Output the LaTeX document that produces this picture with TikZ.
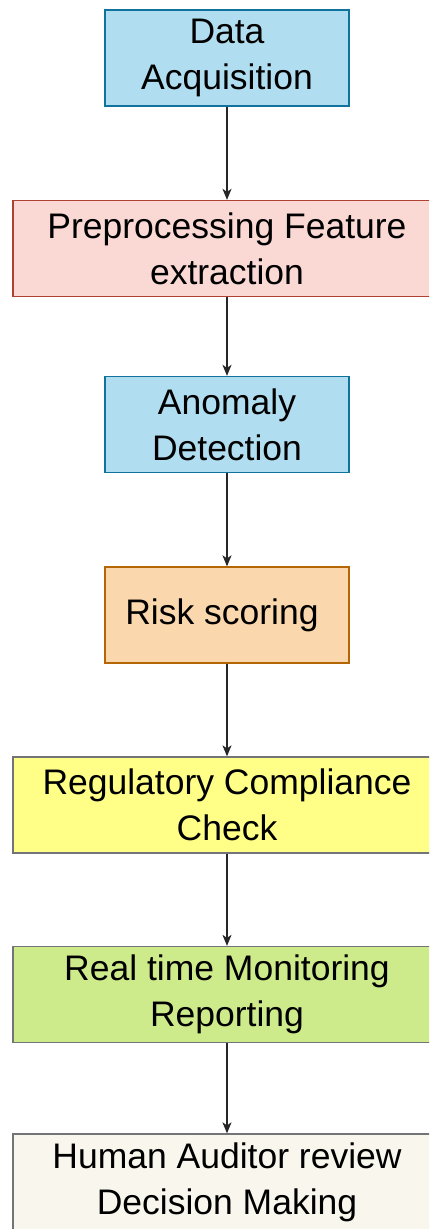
\documentclass[tikz,border=0pt]{standalone}
\usepackage{fontspec}
\setmainfont{Liberation Sans}
\usetikzlibrary{arrows.meta}
\definecolor{bluefill}{HTML}{B1DDF0}
\definecolor{bluedraw}{HTML}{10739E}
\definecolor{redfill}{HTML}{FAD9D5}
\definecolor{reddraw}{HTML}{AE4132}
\definecolor{orangefill}{HTML}{FAD7AC}
\definecolor{orangedraw}{HTML}{B46504}
\definecolor{yellowfill}{HTML}{FFFF88}
\definecolor{greenfill}{HTML}{CDEB8B}
\definecolor{creamfill}{HTML}{F9F7ED}
\definecolor{greydraw}{HTML}{36393D}
\begin{document}
\begin{tikzpicture}[x=1pt,y=-1pt,
  box/.style={rectangle, line width=1.3pt, align=center, inner sep=0pt,
    font=\fontsize{35.5}{46}\selectfont, text=black},
  narrow/.style={box, minimum width=244pt, minimum height=96pt},
  wide/.style={box, minimum width=428pt, minimum height=96pt},
  arr/.style={line width=1.3pt, draw=black!85, -{Stealth[length=11pt,width=9pt,inset=3pt]}}
]
\useasboundingbox (0,0) rectangle (429,1229);
\clip (0,0) rectangle (429,1229);
\node[narrow, fill=bluefill, draw=bluedraw] (b1) at (227,58) {Data\\Acquisition};
\node[wide, fill=redfill, draw=reddraw] (b2) at (227,248.5) {Preprocessing Feature\\extraction};
\node[narrow, fill=bluefill, draw=bluedraw] (b3) at (227,424.5) {Anomaly\\Detection};
\node[narrow, fill=orangefill, draw=orangedraw] (b4) at (227,615) {\hspace*{-10pt}Risk scoring};
\node[wide, fill=yellowfill, draw=greydraw!70] (b5) at (227,805) {Regulatory Compliance\\Check};
\node[wide, fill=greenfill, draw=greydraw!70] (b6) at (227,994.5) {Real time Monitoring\\Reporting};
\node[wide, fill=creamfill, draw=greydraw!70] (b7) at (227,1182) {Human Auditor review\\Decision Making};
\draw[arr] (b1.south) -- (b2.north);
\draw[arr] (b2.south) -- (b3.north);
\draw[arr] (b3.south) -- (b4.north);
\draw[arr] (b4.south) -- (b5.north);
\draw[arr] (b5.south) -- (b6.north);
\draw[arr] (b6.south) -- (b7.north);
\end{tikzpicture}
\end{document}
